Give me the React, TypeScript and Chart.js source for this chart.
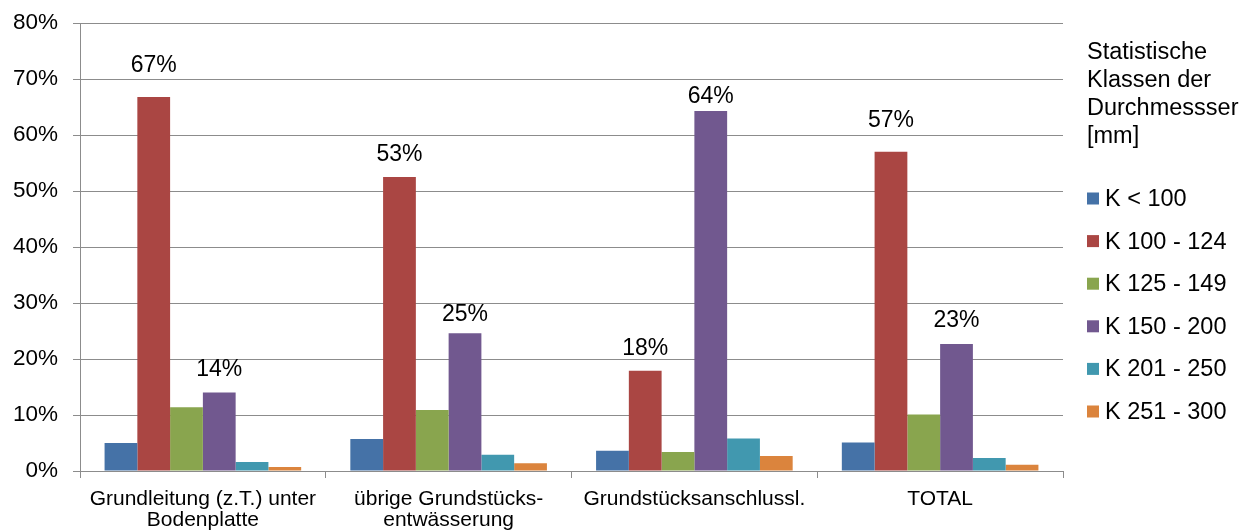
import React, { useEffect, useRef } from "react";
import { Chart, registerables } from "chart.js";

Chart.register(...registerables);

const categories: string[][] = [
  ["Grundleitung (z.T.) unter", "Bodenplatte"],
  ["übrige Grundstücks-", "entwässerung"],
  ["Grundstücksanschlussl."],
  ["TOTAL"],
];
const seriesNames = ["K < 100", "K 100 - 124", "K 125 - 149", "K 150 - 200", "K 201 - 250", "K 251 - 300"];
const kUnder100 = [5.0, 5.7, 3.6, 5.1];
const k100to124 = [66.8, 52.5, 17.9, 57.0];
const k125to149 = [11.4, 10.9, 3.4, 10.1];
const k150to200 = [14.0, 24.6, 64.3, 22.7];
const k201to250 = [1.6, 2.9, 5.8, 2.3];
const k251to300 = [0.7, 1.4, 2.7, 1.1];
const legendTitle = ["Statistische", "Klassen der", "Durchmessser", "[mm]"];
const yMax = 80;
const yStep = 10;

const seriesValues = [kUnder100, k100to124, k125to149, k150to200, k201to250, k251to300];
const colors = ["#4572A7", "#AA4643", "#89A54E", "#71588F", "#4198AF", "#DB843D"];
const FONT = '"Liberation Sans", Arial, sans-serif';
const GRID = "#8c8c8c";

// label styling: which series get value labels and the gap (px) above the bar
const labelledSeries = [
  { index: 1, gaps: [25, 16, 16, 25] },
  { index: 3, gaps: [17, 12, 8, 17] },
];

const valueLabelPlugin = {
  id: "valueLabels",
  afterDatasetsDraw(chart: any) {
    const ctx = chart.ctx;
    ctx.save();
    ctx.font = `23px ${FONT}`;
    ctx.fillStyle = "#000";
    ctx.textAlign = "center";
    ctx.textBaseline = "alphabetic";
    labelledSeries.forEach(({ index, gaps }) => {
      const meta = chart.getDatasetMeta(index);
      meta.data.forEach((bar: any, i: number) => {
        const v = chart.data.datasets[index].data[i] as number;
        ctx.fillText(Math.round(v) + "%", bar.x, bar.y - gaps[i]);
      });
    });
    ctx.restore();
  },
};

const legendPlugin = {
  id: "sideLegend",
  afterDraw(chart: any) {
    const ctx = chart.ctx;
    const x0 = 1087;
    ctx.save();
    ctx.font = `23.5px ${FONT}`;
    ctx.fillStyle = "#000";
    ctx.textAlign = "left";
    ctx.textBaseline = "middle";
    legendTitle.forEach((line, i) => {
      ctx.fillText(line, x0, 53 + i * 28);
    });
    chart.data.datasets.forEach((ds: any, i: number) => {
      const cy = 198.5 + i * 42.6;
      ctx.fillStyle = ds.backgroundColor;
      ctx.fillRect(x0, cy - 6, 12, 12);
      ctx.fillStyle = "#000";
      ctx.fillText(ds.label, x0 + 18, cy + 1);
    });
    ctx.restore();
  },
};

export default function App() {
  const ref = useRef<HTMLCanvasElement>(null);
  useEffect(() => {
    if (!ref.current) return;
    const chart = new Chart(ref.current, {
      type: "bar",
      data: {
        labels: categories as any,
        datasets: seriesNames.map((name, i) => ({
          label: name,
          data: seriesValues[i],
          backgroundColor: colors[i],
          borderWidth: 0,
          categoryPercentage: 0.8,
          barPercentage: 1.0,
        })),
      },
      options: {
        animation: false,
        responsive: false,
        maintainAspectRatio: false,
        layout: { padding: { top: 23, right: 181, left: 0, bottom: 0 } },
        plugins: {
          legend: { display: false },
          tooltip: { enabled: false },
        },
        scales: {
          x: {
            afterFit: (s: any) => {
              s.height = 61;
            },
            grid: {
              display: true,
              drawOnChartArea: false,
              drawTicks: true,
              tickLength: 7,
              color: GRID,
              offset: true,
            },
            border: { display: true, color: GRID },
            ticks: {
              color: "#000",
              font: { family: FONT, size: 21, lineHeight: 1.02 },
              padding: 10,
              maxRotation: 0,
              autoSkip: false,
            },
          },
          y: {
            min: 0,
            max: yMax,
            afterFit: (s: any) => {
              s.width = 80;
              s.paddingTop = 0;
              s.paddingBottom = 0;
            },
            grid: { color: GRID, tickLength: 7, drawTicks: true },
            border: { display: true, color: GRID },
            ticks: {
              stepSize: yStep,
              color: "#000",
              padding: 15,
              font: { family: FONT, size: 22.5, lineHeight: 0.8 },
              callback: (v: any) => v + "%",
            },
          },
        },
      },
      plugins: [valueLabelPlugin, legendPlugin],
    });
    return () => chart.destroy();
  }, []);
  return (
    <div style={{ position: "absolute", left: 0, top: 0, width: 1244, height: 532, background: "#fff" }}>
      <canvas ref={ref} width={1244} height={532} style={{ display: "block" }} />
    </div>
  );
}
